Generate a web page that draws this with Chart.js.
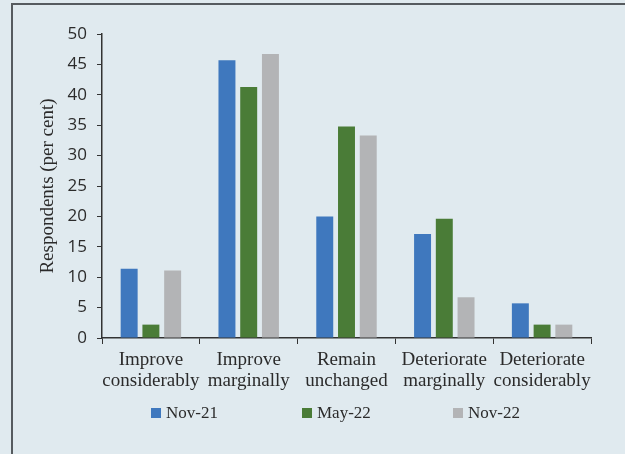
<!DOCTYPE html>
<html>
<head>
<meta charset="utf-8">
<script src="https://cdn.jsdelivr.net/npm/chart.js@4"></script>
<style>
    html, body { margin: 0; padding: 0; background: #e0eaef; overflow: hidden; }
    #frame {
        position: absolute; left: 11px; top: 3px;
        width: 700px; height: 520px;
        border: 2px solid #565b5f;
    }
    #wrap { position: absolute; left: 0; top: 0; width: 625px; height: 454px; }
</style>
</head>
<body>
<div id="frame"></div>
<div id="wrap"><canvas id="outlookChart" width="625" height="454"></canvas></div>
<script>
// Survey responses, per cent of respondents
const categories = [
    ['Improve', 'considerably'],
    ['Improve', 'marginally'],
    ['Remain', 'unchanged'],
    ['Deteriorate', 'marginally'],
    ['Deteriorate', 'considerably']
];
const nov21 = [11.4, 45.7, 20.0, 17.1, 5.7];
const may22 = [2.2, 41.3, 34.8, 19.6, 2.2];
const nov22 = [11.1, 46.7, 33.3, 6.7, 2.2];
const yTicks = [0, 5, 10, 15, 20, 25, 30, 35, 40, 45, 50];

const serif = "'Liberation Serif', 'DejaVu Serif', serif";
const sans = "'Open Sans', 'DejaVu Sans', sans-serif";
const textColor = '#2b2b2b';
const axisColor = '#333333';

// Legend drawn as one wide-spaced row under the category labels
const legendRow = {
    id: 'legendRow',
    afterDraw(chart) {
        const { ctx, chartArea } = chart;
        const pitch = 151;
        const box = 10;
        const y = 413;
        let x = chartArea.left + 49;
        ctx.save();
        ctx.font = "17px " + serif;
        ctx.textBaseline = 'middle';
        chart.data.datasets.forEach(ds => {
            ctx.fillStyle = ds.backgroundColor;
            ctx.fillRect(x, y - box / 2, box, box);
            ctx.fillStyle = textColor;
            ctx.fillText(ds.label, x + box + 5, y + 1);
            x += pitch;
        });
        ctx.restore();
    }
};

const ctx = document.getElementById('outlookChart').getContext('2d');
const outlookChart = new Chart(ctx, {
    type: 'bar',
    data: {
        labels: categories,
        datasets: [
            { label: 'Nov-21', data: nov21, backgroundColor: '#3f78be' },
            { label: 'May-22', data: may22, backgroundColor: '#4a7c37' },
            { label: 'Nov-22', data: nov22, backgroundColor: '#b3b4b6' }
        ]
    },
    plugins: [legendRow],
    options: {
        responsive: false,
        animation: false,
        layout: { padding: { left: 0, right: 34, top: 34, bottom: 0 } },
        datasets: {
            bar: { categoryPercentage: 0.667, barPercentage: 0.78 }
        },
        plugins: {
            tooltip: { enabled: false },
            legend: { display: false }
        },
        scales: {
            x: {
                grid: {
                    offset: true,
                    drawOnChartArea: false,
                    tickLength: 6,
                    color: axisColor
                },
                border: { color: axisColor, width: 1.5 },
                ticks: {
                    font: { family: serif, size: 19, lineHeight: 1.1 },
                    color: textColor,
                    maxRotation: 0,
                    autoSkip: false,
                    padding: 6
                },
                afterFit: (scale) => { scale.height = 454 - 338; }
            },
            y: {
                min: 0,
                max: 50,
                afterBuildTicks: (scale) => {
                    scale.ticks = yTicks.map(v => ({ value: v }));
                },
                grid: {
                    drawOnChartArea: false,
                    tickLength: 5,
                    color: axisColor
                },
                border: { color: axisColor, width: 1.5 },
                ticks: {
                    font: { family: sans, size: 17 },
                    color: textColor,
                    autoSkip: false,
                    padding: 10
                },
                title: {
                    display: true,
                    text: 'Respondents (per cent)',
                    font: { family: serif, size: 19 },
                    color: textColor,
                    padding: { top: 37, bottom: 0 }
                },
                afterFit: (scale) => { scale.width = 102; }
            }
        }
    }
});
</script>
</body>
</html>
